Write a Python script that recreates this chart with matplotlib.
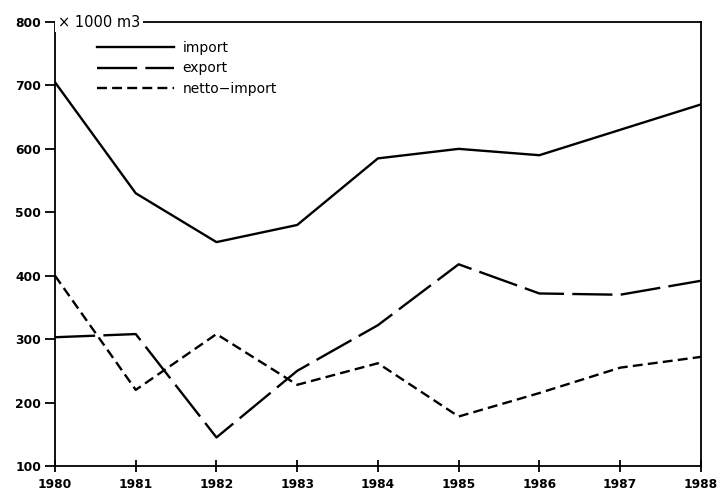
import matplotlib
matplotlib.use("Agg")
import matplotlib.pyplot as plt

years = [1980, 1981, 1982, 1983, 1984, 1985, 1986, 1987, 1988]
import_vals = [705, 530, 453, 480, 585, 600, 590, 630, 670]
export_vals = [303, 308, 145, 250, 322, 418, 372, 370, 392]
netto_vals = [400, 220, 308, 228, 262, 178, 215, 255, 272]
yticks = [100, 200, 300, 400, 500, 600, 700, 800]

plt.rcParams['font.family'] = ['DejaVu Sans']
fig = plt.figure(figsize=(7.21, 4.97), dpi=100)
ax = fig.add_axes([0.0763, 0.0624, 0.972 - 0.0763, 0.9557 - 0.0624])

lw = 1.7
ax.plot(years, import_vals, color='black', lw=lw, label='import')
ax.plot(years, export_vals, color='black', lw=lw, dashes=(17, 3.5), label='export')
ax.plot(years, netto_vals, color='black', lw=lw, dashes=(4.2, 2.2), label='netto\u2212import')

ax.set_xlim(1980, 1988)
ax.set_ylim(100, 800)
ax.set_xticks(years)
ax.set_yticks(yticks)
ax.tick_params(axis='y', direction='out', length=7, width=1.3, labelsize=8.8, pad=3)
ax.tick_params(axis='x', direction='inout', length=9, width=1.3, labelsize=8.8, pad=4)
for lab in ax.get_xticklabels() + ax.get_yticklabels():
    lab.set_fontweight('bold')
for s in ax.spines.values():
    s.set_linewidth(1.3)

ax.text(0.004, 1.0, '\u00d7 1000 m3', transform=ax.transAxes, ha='left', va='center',
        fontsize=10.5, bbox=dict(facecolor='white', edgecolor='none', pad=2))

leg = ax.legend(loc='upper left', bbox_to_anchor=(0.045, 0.985), frameon=False,
                handlelength=5.6, fontsize=10, labelspacing=0.45, handletextpad=0.6)

fig.savefig('out.png', dpi=100)
